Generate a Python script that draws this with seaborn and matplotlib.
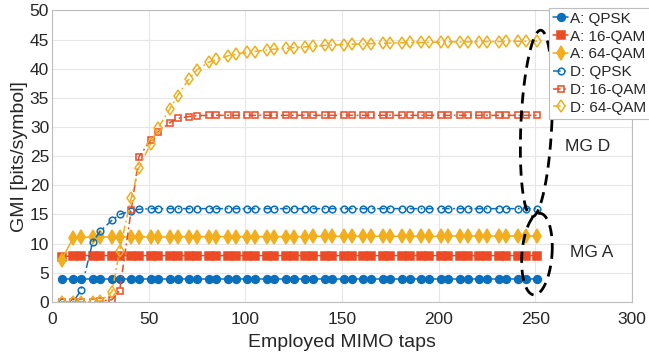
import numpy as np
import pandas as pd
import matplotlib
matplotlib.use("Agg")
import matplotlib.pyplot as plt
import seaborn as sns

# ---- data ----
TAPS = [5, 11, 15, 21, 25, 31, 35, 41, 45, 51,
        55, 61, 65, 71, 75, 81, 85, 91, 95, 101,
        105, 111, 115, 121, 125, 131, 135, 141, 145, 151,
        155, 161, 165, 171, 175, 181, 185, 191, 195, 201,
        205, 211, 215, 221, 225, 231, 235, 241, 245, 251]

A_QPSK = [4.0] * 50
A_16QAM = [7.7] + [7.95] * 49
A_64QAM = [7.2, 11.0, 11.1, 11.1, 11.15, 11.15, 11.15, 11.15, 11.15, 11.15,
           11.15, 11.15, 11.2, 11.2, 11.2, 11.2, 11.2, 11.2, 11.2, 11.2,
           11.2, 11.2, 11.2, 11.2, 11.2, 11.2, 11.25, 11.25, 11.25, 11.25,
           11.25, 11.25, 11.25, 11.25, 11.25, 11.25, 11.25, 11.25, 11.25, 11.25,
           11.3, 11.3, 11.3, 11.3, 11.3, 11.3, 11.3, 11.3, 11.3, 11.3]

D_QPSK = [0.0, 0.0, 2.0, 10.2, 12.15, 14.0, 15.0, 15.6, 15.9, 16.0] + [16.0] * 40
D_16QAM = [0.0, 0.0, 0.0, 0.0, 0.1, 0.4, 1.9, 15.75, 24.9, 27.7,
           29.2, 30.75, 31.5, 31.8, 31.95] + [32.0] * 35
D_64QAM = [0.0, 0.0, 0.0, 0.05, 0.15, 1.7, 8.8, 17.9, 23.0, 27.1,
           29.9, 33.1, 35.4, 38.3, 39.8, 41.1, 41.6, 42.2, 42.5, 42.85,
           42.95, 43.2, 43.35, 43.5, 43.6, 43.75, 43.85, 44.0, 44.05, 44.15,
           44.2, 44.25, 44.3, 44.35, 44.4, 44.45, 44.5, 44.5, 44.55, 44.55,
           44.6, 44.6, 44.6, 44.65, 44.65, 44.65, 44.7, 44.7, 44.7, 44.75]

SERIES = [
    ("A: QPSK", A_QPSK),
    ("A: 16-QAM", A_16QAM),
    ("A: 64-QAM", A_64QAM),
    ("D: QPSK", D_QPSK),
    ("D: 16-QAM", D_16QAM),
    ("D: 64-QAM", D_64QAM),
]

BLUE = "#0A6FBD"
RED = "#EC4B25"
YELLOW = "#F2AE1C"
DASHDOT = (0, (5, 2.2, 1.2, 2.2))

STYLES = {
    "A: QPSK": dict(color=BLUE, marker="o", ls="-", filled=True, ms=5.6),
    "A: 16-QAM": dict(color=RED, marker="s", ls="-", filled=True, ms=5.2),
    "A: 64-QAM": dict(color=YELLOW, marker="d", ls="-", filled=True, ms=7.4),
    "D: QPSK": dict(color=BLUE, marker="o", ls=DASHDOT, filled=False, ms=4.8),
    "D: 16-QAM": dict(color=RED, marker="s", ls=DASHDOT, filled=False, ms=4.5),
    "D: 64-QAM": dict(color=YELLOW, marker="d", ls=DASHDOT, filled=False, ms=6.5),
}

sns.set_theme(style="whitegrid")
plt.rcParams['font.family'] = ['Liberation Sans', 'DejaVu Sans']

fig = plt.figure(figsize=(6.49, 3.59), dpi=100)
ax = fig.add_axes([0.080, 0.159, 0.894, 0.812])

for name, vals in SERIES:
    st = STYLES[name]
    df = pd.DataFrame({"taps": TAPS, "gmi": vals})
    sns.lineplot(data=df, x="taps", y="gmi", ax=ax, label=name,
                 color=st["color"], linewidth=1.1,
                 marker=st["marker"], markersize=st["ms"],
                 markerfacecolor=st["color"] if st["filled"] else "none",
                 markeredgecolor=st["color"], markeredgewidth=1.1)
    ax.lines[-1].set_linestyle(st["ls"])

ax.set_xlim(0, 300)
ax.set_ylim(0, 50)
ax.set_xticks(np.arange(0, 301, 50))
ax.set_yticks(np.arange(0, 51, 5))
ax.set_xlabel("Employed MIMO taps", fontsize=14, color="#262626", labelpad=5)
ax.set_ylabel("GMI [bits/symbol]", fontsize=14, color="#262626", labelpad=1)
ax.tick_params(axis="both", direction="in", length=3, labelsize=12.5,
               colors="#262626")
ax.tick_params(axis="x", pad=7.3)
ax.tick_params(axis="y", pad=2)
ax.grid(True, color="#E6E6E6", linewidth=0.8)
for sp in ax.spines.values():
    sp.set_color("#BDBDBD")
    sp.set_linewidth(0.8)

# dashed ellipses marking the two groups
t = np.linspace(0, 2 * np.pi, 300)
ax.plot(250.5 + 8.0 * np.cos(t) + 2.2 * np.sin(t), 30.6 + 16.0 * np.sin(t),
        color="black", ls=(0, (4, 2.5)), lw=2.0, clip_on=False)
ax.plot(250.8 + 7.8 * np.cos(t) + 1.4 * np.sin(t), 8.2 + 7.0 * np.sin(t),
        color="black", ls=(0, (4, 2.5)), lw=2.0, clip_on=False)
ax.text(277, 26.6, "MG D", fontsize=12.5, ha="center", va="center", color="#262626")
ax.text(279, 8.4, "MG A", fontsize=12.5, ha="center", va="center", color="#262626")

leg = ax.legend(loc="upper left", bbox_to_anchor=(0.846, 0.978),
                bbox_transform=fig.transFigure, fontsize=11,
                frameon=True, fancybox=False, framealpha=1,
                edgecolor="#BDBDBD", handlelength=1.0, handletextpad=0.1,
                labelspacing=0.25, borderpad=0.25, borderaxespad=0)
leg.get_frame().set_linewidth(0.8)

fig.savefig("out.png", dpi=100)
